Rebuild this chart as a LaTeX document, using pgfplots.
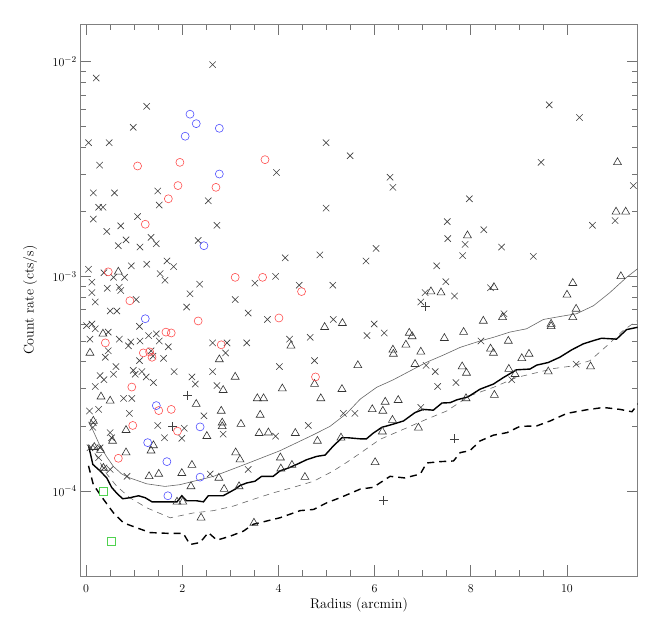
\documentclass[border=0pt]{standalone}
\usepackage{pgfplots}
\pgfplotsset{compat=1.18}

\definecolor{redc}{RGB}{255,80,80}
\definecolor{bluec}{RGB}{80,80,255}
\definecolor{greenc}{RGB}{80,210,80}

\begin{document}
\begin{tikzpicture}
  \begin{axis}[
    scale only axis,
    width=557pt, height=552pt,
    ymode=log,
    xmin=-0.12, xmax=11.47,
    ymin=4e-5, ymax=1.5e-2,
    xtick={0,2,4,6,8,10},
    minor x tick num=3,
    ytick={1e-4,1e-3,1e-2},
    major tick length=11pt,
    minor tick length=6pt,
    axis line style={black!50, line width=0.9pt},
    tick style={black!55, line width=0.7pt},
    tick label style={font=\fontsize{13}{15}\selectfont},
    label style={font=\fontsize{14}{16}\selectfont},
    xticklabel style={yshift=-5pt},
    xlabel={Radius (arcmin)},
    ylabel={Count rate (cts/s)},
    xlabel style={at={(axis description cs:0.5,-0.052)}, anchor=center},
    ylabel style={at={(axis description cs:-0.09,0.5)}, anchor=center},
    clip=true,
  ]

    % background sources (crosses)
    \addplot[only marks, mark=x, mark size=4.5pt, black!75, mark options={line width=0.6pt}] table {
      2.63 9.7e-3
      0.21 8.4e-3
      1.26 6.2e-3
      0.98 4.95e-3
      0.05 4.2e-3
      0.48 4.2e-3
      4.99 4.2e-3
      5.49 3.65e-3
      0.28 3.3e-3
      3.96 3.05e-3
      0.15 2.45e-3
      0.59 2.45e-3
      1.49 2.5e-3
      2.54 2.25e-3
      1.52 2.15e-3
      0.26 2.1e-3
      0.35 2.1e-3
      4.99 2.08e-3
      9.63 6.3e-3
      10.26 5.5e-3
      9.46 3.4e-3
      6.32 2.9e-3
      6.38 2.6e-3
      7.97 2.3e-3
      11.38 2.65e-3
      0.15 1.85e-3
      1.07 1.9e-3
      2.72 1.73e-3
      0.43 1.62e-3
      0.72 1.72e-3
      0.83 1.48e-3
      1.35 1.52e-3
      1.46 1.42e-3
      0.67 1.39e-3
      1.12 1.37e-3
      2.33 1.47e-3
      4.14 1.22e-3
      4.86 1.26e-3
      0.05 1.08e-3
      1.26 1.14e-3
      1.68 1.18e-3
      1.82 1.11e-3
      0.94 1.12e-3
      0.37 1.04e-3
      0.57 9.9e-4
      0.80 9.9e-4
      1.54 1.03e-3
      1.64 9.6e-4
      0.12 9.4e-4
      0.12 8.4e-4
      0.44 8.8e-4
      0.69 8.9e-4
      0.72 8.6e-4
      0.19 7.6e-4
      1.04 7.8e-4
      0.50 6.9e-4
      0.64 6.9e-4
      2.16 8.3e-4
      2.36 9.2e-4
      2.09 7.2e-4
      3.10 7.8e-4
      3.37 6.75e-4
      3.51 9.3e-4
      3.94 1.0e-3
      4.43 9.1e-4
      5.13 9.1e-4
      3.77 6.3e-4
      5.14 6.3e-4
      0.01 5.9e-4
      0.12 6.0e-4
      0.19 5.7e-4
      0.08 5.1e-4
      0.46 5.5e-4
      0.69 5.1e-4
      1.11 5.85e-4
      1.30 5.3e-4
      1.46 5.4e-4
      1.52 5.0e-4
      0.93 4.95e-4
      0.88 4.75e-4
      1.12 5.0e-4
      0.46 4.5e-4
      0.40 4.2e-4
      1.71 4.7e-4
      1.35 4.5e-4
      1.39 4.25e-4
      1.61 4.15e-4
      1.11 4.05e-4
      2.63 4.9e-4
      2.93 4.9e-4
      2.90 4.4e-4
      3.34 4.9e-4
      4.23 5.1e-4
      4.66 5.2e-4
      4.75 4.05e-4
      4.02 3.8e-4
      0.62 3.8e-4
      0.57 3.5e-4
      0.29 3.45e-4
      0.37 3.3e-4
      0.19 3.07e-4
      0.98 3.65e-4
      1.02 3.5e-4
      1.16 3.6e-4
      1.25 3.4e-4
      1.40 3.2e-4
      1.83 3.6e-4
      2.20 3.4e-4
      2.27 3.15e-4
      2.63 3.6e-4
      2.72 3.1e-4
      0.78 2.7e-4
      0.95 2.7e-4
      7.51 1.8e-3
      8.27 1.65e-3
      7.52 1.5e-3
      6.03 1.35e-3
      5.82 1.18e-3
      7.88 1.41e-3
      7.83 1.25e-3
      8.64 1.37e-3
      9.30 1.24e-3
      7.29 1.12e-3
      10.53 1.73e-3
      11.0 1.82e-3
      7.48 9.45e-4
      7.05 8.4e-4
      7.66 8.1e-4
      6.96 7.6e-4
      8.41 8.85e-4
      8.69 6.7e-4
      5.99 6.0e-4
      5.84 5.3e-4
      6.20 5.45e-4
      8.21 5.0e-4
      7.07 3.85e-4
      7.26 3.6e-4
      7.31 3.07e-4
      7.69 3.2e-4
      8.85 3.3e-4
      10.19 3.9e-4
      0.07 2.36e-4
      0.26 2.4e-4
      0.90 2.3e-4
      0.15 2.08e-4
      0.14 1.98e-4
      1.49 2.02e-4
      2.45 2.24e-4
      2.04 1.96e-4
      1.99 1.76e-4
      0.50 1.87e-4
      0.53 1.77e-4
      1.63 1.77e-4
      2.85 1.84e-4
      4.62 2.02e-4
      3.94 1.8e-4
      5.59 2.3e-4
      5.35 2.3e-4
      0.08 1.59e-4
      0.19 1.59e-4
      0.29 1.59e-4
      0.26 1.43e-4
      0.37 1.28e-4
      0.50 1.26e-4
      0.85 1.17e-4
      3.37 1.26e-4
      2.58 1.2e-4
      6.96 2.45e-4
    };

    % plus signs
    \addplot[only marks, mark=+, mark size=4.5pt, black!75, mark options={line width=0.6pt}] table {
      2.11 2.8e-4
      1.80 2.0e-4
      7.06 7.25e-4
      7.66 1.75e-4
      6.18 9.05e-5
    };

    % triangles
    \addplot[only marks, mark=triangle, mark size=4.6pt, black!80, mark options={line width=0.6pt}] table {
      11.05 3.4e-3
      11.02 2.0e-3
      11.22 2.0e-3
      0.67 1.05e-3
      0.35 5.4e-4
      0.08 4.4e-4
      4.96 5.8e-4
      5.33 6.05e-4
      4.26 4.75e-4
      2.77 4.1e-4
      3.10 3.4e-4
      2.85 2.95e-4
      4.08 3.0e-4
      4.75 3.15e-4
      5.32 2.98e-4
      5.65 3.85e-4
      0.31 2.75e-4
      3.56 2.7e-4
      3.69 2.7e-4
      4.88 2.7e-4
      7.93 1.55e-3
      8.48 8.9e-4
      7.17 8.5e-4
      7.38 8.4e-4
      10.12 9.3e-4
      10.0 8.2e-4
      10.19 7.05e-4
      10.12 6.45e-4
      11.12 1.0e-3
      8.26 6.2e-4
      8.66 6.45e-4
      9.67 6.0e-4
      9.67 5.85e-4
      6.72 5.45e-4
      6.78 5.25e-4
      7.85 5.5e-4
      7.45 5.15e-4
      6.65 4.8e-4
      6.38 4.55e-4
      6.39 4.35e-4
      6.96 4.45e-4
      8.78 5.0e-4
      8.41 4.6e-4
      8.47 4.4e-4
      6.84 3.9e-4
      7.82 3.8e-4
      7.91 3.55e-4
      9.06 4.15e-4
      9.21 4.35e-4
      8.79 3.7e-4
      8.92 3.5e-4
      9.61 3.6e-4
      10.49 3.8e-4
      8.49 2.8e-4
      6.22 2.6e-4
      6.49 2.65e-4
      7.90 2.7e-4
      5.95 2.4e-4
      6.17 2.36e-4
      6.37 2.14e-4
      6.16 1.89e-4
      6.91 1.97e-4
      6.01 1.36e-4
      0.50 2.63e-4
      2.29 2.54e-4
      2.81 2.36e-4
      3.62 2.26e-4
      2.83 2.08e-4
      2.83 2.0e-4
      3.22 2.05e-4
      0.83 1.92e-4
      0.55 1.71e-4
      2.51 1.8e-4
      3.60 1.86e-4
      3.79 1.87e-4
      4.35 1.86e-4
      4.81 1.71e-4
      1.40 1.63e-4
      1.35 1.54e-4
      0.83 1.51e-4
      3.11 1.51e-4
      3.20 1.4e-4
      4.04 1.43e-4
      2.20 1.32e-4
      1.31 1.17e-4
      1.51 1.2e-4
      1.99 1.21e-4
      2.76 1.15e-4
      4.05 1.27e-4
      4.28 1.32e-4
      4.55 1.16e-4
      2.18 1.05e-4
      2.87 1.02e-4
      3.18 1.05e-4
      5.30 1.77e-4
      1.89 8.9e-5
      2.01 8.9e-5
      2.39 7.5e-5
      3.49 7.1e-5
      0.15 2.12e-4
      0.17 1.6e-4
      0.30 1.55e-4
      0.36 1.28e-4
    };

    % red circles
    \addplot[only marks, mark=o, mark size=4pt, redc, mark options={line width=0.6pt}] table {
      1.07 3.27e-3
      1.95 3.4e-3
      3.72 3.5e-3
      1.91 2.65e-3
      2.70 2.6e-3
      1.71 2.3e-3
      1.23 1.75e-3
      0.46 1.05e-3
      3.10 9.9e-4
      3.67 9.9e-4
      4.48 8.5e-4
      0.91 7.7e-4
      2.33 6.2e-4
      4.01 6.4e-4
      1.66 5.5e-4
      1.77 5.45e-4
      0.40 4.9e-4
      2.81 4.8e-4
      1.19 4.4e-4
      1.32 4.45e-4
      1.37 4.2e-4
      4.77 3.4e-4
      0.95 3.05e-4
      1.51 2.37e-4
      1.77 2.4e-4
      0.97 2.02e-4
      1.90 1.9e-4
      0.67 1.42e-4
    };

    % blue circles
    \addplot[only marks, mark=o, mark size=4pt, bluec, mark options={line width=0.6pt}] table {
      2.16 5.7e-3
      2.29 5.15e-3
      2.77 4.9e-3
      2.06 4.5e-3
      2.77 3.0e-3
      2.45 1.39e-3
      1.23 6.35e-4
      1.46 2.5e-4
      2.37 1.99e-4
      1.28 1.68e-4
      1.68 1.37e-4
      2.37 1.16e-4
      1.70 9.5e-5
    };

    % green squares
    \addplot[only marks, mark=square*, mark size=4pt, greenc, mark options={line width=0.8pt, draw=greenc, fill=white}] table {
      0.36 1.0e-4
      0.53 5.8e-5
    };

    % thin gray solid curve
    \addplot[black!60, line width=0.6pt, no marks] table {
      0.05 2.1e-4
      0.15 1.9e-4
      0.29 1.62e-4
      0.43 1.44e-4
      0.57 1.3e-4
      0.74 1.2e-4
      0.91 1.15e-4
      1.26 1.08e-4
      1.64 1.05e-4
      1.95 1.07e-4
      2.65 1.17e-4
      3.34 1.34e-4
      4.03 1.54e-4
      4.73 1.83e-4
      5.07 2.0e-4
      5.42 2.3e-4
      5.70 2.68e-4
      6.04 3.04e-4
      6.39 3.3e-4
      6.74 3.63e-4
      7.08 3.98e-4
      7.43 4.3e-4
      7.78 4.67e-4
      8.19 5.0e-4
      8.47 5.2e-4
      8.81 5.5e-4
      9.16 5.7e-4
      9.51 6.3e-4
      9.85 6.5e-4
      10.20 6.7e-4
      10.55 7.3e-4
      10.89 8.4e-4
      11.24 9.9e-4
      11.50 1.1e-3
    };

    % thin gray dashed curve
    \addplot[black!60, line width=0.6pt, dash pattern=on 6pt off 5pt, no marks] table {
      0.05 1.65e-4
      0.15 1.54e-4
      0.43 1.2e-4
      0.64 1.05e-4
      0.91 9.3e-5
      1.26 8.35e-5
      1.75 7.5e-5
      2.23 7.9e-5
      2.65 8.1e-5
      3.06 8.5e-5
      3.48 9.15e-5
      3.89 9.8e-5
      4.31 1.04e-4
      4.73 1.11e-4
      5.14 1.24e-4
      5.42 1.36e-4
      5.70 1.5e-4
      6.11 1.74e-4
      6.60 1.94e-4
      7.08 2.16e-4
      7.50 2.36e-4
      7.98 2.78e-4
      8.47 3.04e-4
      8.95 3.38e-4
      9.37 3.56e-4
      9.72 3.72e-4
      10.13 3.83e-4
      10.48 4.05e-4
      10.83 4.75e-4
      11.17 5.6e-4
      11.45 6.2e-4
    };

    % thick solid curve
    \addplot[black, line width=1.4pt, no marks] table {
      0.05 1.63e-4
      0.14 1.33e-4
      0.29 1.24e-4
      0.43 1.15e-4
      0.53 1.04e-4
      0.64 9.75e-5
      0.76 9.2e-5
      0.91 9.3e-5
      1.09 9.5e-5
      1.23 9.3e-5
      1.37 8.9e-5
      1.89 8.9e-5
      1.99 9.5e-5
      2.09 9.0e-5
      2.30 9.0e-5
      2.44 8.9e-5
      2.54 9.5e-5
      2.85 9.5e-5
      3.10 1.02e-4
      3.20 1.06e-4
      3.34 1.09e-4
      3.51 1.11e-4
      3.65 1.17e-4
      3.89 1.17e-4
      4.03 1.24e-4
      4.21 1.28e-4
      4.38 1.33e-4
      4.59 1.4e-4
      4.80 1.45e-4
      4.97 1.47e-4
      5.14 1.62e-4
      5.32 1.77e-4
      5.45 1.77e-4
      5.70 1.75e-4
      5.83 1.75e-4
      5.97 1.86e-4
      6.15 1.98e-4
      6.39 2.05e-4
      6.60 2.12e-4
      6.84 2.32e-4
      7.01 2.4e-4
      7.22 2.38e-4
      7.40 2.57e-4
      7.57 2.58e-4
      7.71 2.66e-4
      7.91 2.73e-4
      7.98 2.78e-4
      8.19 2.98e-4
      8.47 3.15e-4
      8.68 3.38e-4
      8.95 3.67e-4
      9.23 3.7e-4
      9.37 3.86e-4
      9.61 3.97e-4
      9.85 4.2e-4
      10.10 4.55e-4
      10.34 4.85e-4
      10.55 5.02e-4
      10.72 5.15e-4
      11.03 5.1e-4
      11.24 5.65e-4
      11.48 5.8e-4
    };

    % thick dashed curve
    \addplot[black, line width=1.4pt, dash pattern=on 7pt off 5pt, no marks] table {
      0.05 1.31e-4
      0.15 1.07e-4
      0.36 9.15e-5
      0.57 7.9e-5
      0.78 7.1e-5
      1.05 6.74e-5
      1.33 6.4e-5
      1.68 6.35e-5
      2.02 6.35e-5
      2.16 5.63e-5
      2.37 5.75e-5
      2.54 6.4e-5
      2.72 5.9e-5
      2.99 6.15e-5
      3.27 6.5e-5
      3.48 7.0e-5
      3.76 7.25e-5
      4.03 7.5e-5
      4.45 8.1e-5
      4.73 8.2e-5
      5.00 8.8e-5
      5.28 9.3e-5
      5.70 1.02e-4
      5.97 1.04e-4
      6.32 1.17e-4
      6.63 1.15e-4
      6.95 1.2e-4
      7.08 1.35e-4
      7.36 1.37e-4
      7.64 1.38e-4
      7.78 1.51e-4
      7.98 1.54e-4
      8.19 1.71e-4
      8.47 1.82e-4
      8.75 1.87e-4
      9.02 2.0e-4
      9.37 2.01e-4
      9.65 2.12e-4
      10.00 2.3e-4
      10.41 2.39e-4
      10.76 2.45e-4
      11.10 2.4e-4
      11.35 2.34e-4
      11.45 2.5e-4
      11.52 2.63e-4
    };

  \end{axis}
  % margins around the axis, as in the reference
  \path (current axis.south west) ++(-80.3pt,-49.3pt) coordinate (bl);
  \path (current axis.north east) ++(26.3pt,24pt) coordinate (tr);
  \path (bl) rectangle (tr);
\end{tikzpicture}
\end{document}
